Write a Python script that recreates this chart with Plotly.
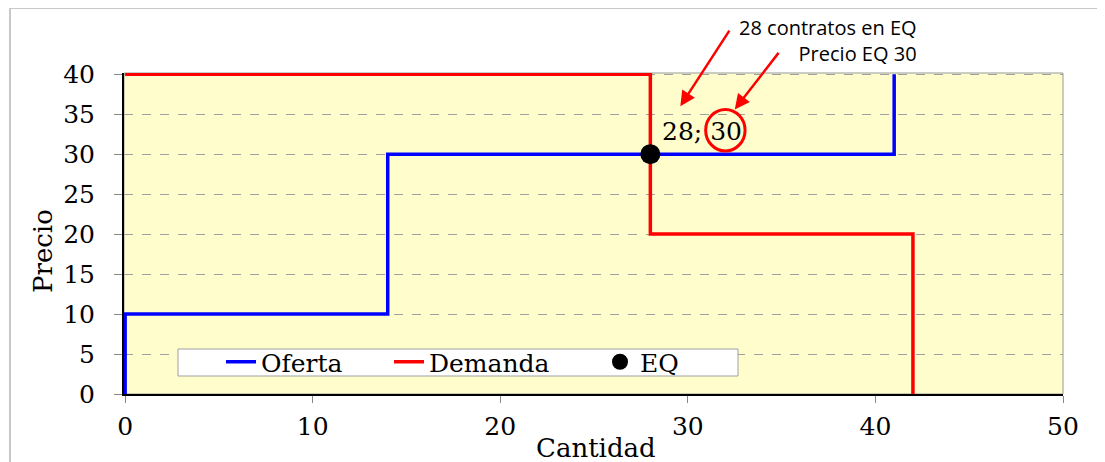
import plotly.graph_objects as go

# Datos del mercado (escalones)
oferta_q = [0, 0, 14, 14, 41, 41]
oferta_p = [0, 10, 10, 30, 30, 40]
demanda_q = [0, 28, 28, 42, 42]
demanda_p = [40, 40, 20, 20, 0]
eq_q = [28]
eq_p = [30]

SERIF = "DejaVu Serif"
SANS = "Open Sans"

# Área de trazado en píxeles de pantalla (la página añade 8 px de margen)
PX_L, PX_R, PX_T, PX_B = 124, 1063, 73, 394
W, H = PX_R - PX_L, PX_B - PX_T


def px_x(x):
    return (x - PX_L) / W


def px_y(y):
    return (PX_B - y) / H


fig = go.Figure()

fig.add_trace(go.Scatter(x=oferta_q, y=oferta_p, mode="lines", name="Oferta", legend="legend",
                         line=dict(color="#0000FF", width=3.5), cliponaxis=False))
fig.add_trace(go.Scatter(x=demanda_q, y=demanda_p, mode="lines", name="Demanda", legend="legend2",
                         line=dict(color="#FF0000", width=3.5), cliponaxis=False))
fig.add_trace(go.Scatter(x=eq_q, y=eq_p, mode="markers", name="EQ", legend="legend3",
                         marker=dict(color="black", size=20), cliponaxis=False))

# Marco del gráfico y borde del área de trazado
fig.add_shape(type="line", xref="paper", yref="paper", x0=px_x(10), x1=px_x(1200), y0=px_y(8), y1=px_y(8),
              line=dict(color="#C8C8C8", width=2), layer="below")
fig.add_shape(type="line", xref="paper", yref="paper", x0=px_x(10), x1=px_x(10), y0=px_y(500), y1=px_y(8),
              line=dict(color="#C8C8C8", width=2), layer="below")
fig.add_shape(type="rect", xref="paper", yref="paper", x0=0, x1=1, y0=0, y1=1,
              line=dict(color="#999999", width=1), layer="below")

# Caja de la leyenda
fig.add_shape(type="rect", xref="paper", yref="paper", x0=px_x(178), x1=px_x(738), y0=px_y(376), y1=px_y(349),
              line=dict(color="#A0A0A0", width=1), fillcolor="white", layer="above")

# Círculo alrededor del precio
fig.add_shape(type="circle", x0=30.95, x1=33.05, y0=30.4, y1=35.6,
              line=dict(color="#FF0000", width=3))

fig.add_annotation(x=33.0, y=32.8, text="28; 30", showarrow=False, xanchor="right", yanchor="middle",
                   font=dict(family=SERIF, size=25, color="black"))

# Flechas
fig.add_annotation(x=29.6, y=36.0, ax=50, ay=-77, text="", showarrow=True,
                   arrowhead=2, arrowsize=1.2, arrowwidth=2.5, arrowcolor="#FF0000")
fig.add_annotation(x=32.5, y=35.6, ax=45, ay=-58, text="", showarrow=True,
                   arrowhead=2, arrowsize=1.2, arrowwidth=2.5, arrowcolor="#FF0000")

fig.add_annotation(xref="paper", yref="paper", x=px_x(919), y=px_y(40.5),
                   text="28 contratos en EQ<br>Precio EQ 30", showarrow=False,
                   xanchor="right", yanchor="middle", align="right",
                   font=dict(family=SANS, size=20, color="black"))

# Títulos de ejes
fig.add_annotation(xref="paper", yref="paper", x=px_x(596), y=px_y(448),
                   text="Cantidad", showarrow=False, xanchor="center", yanchor="middle",
                   font=dict(family=SERIF, size=26, color="black"))
fig.add_annotation(xref="paper", yref="paper", x=px_x(43), y=px_y(251),
                   text="Precio", showarrow=False, textangle=-90, xanchor="center", yanchor="middle",
                   font=dict(family=SERIF, size=26, color="black"))

fig.update_xaxes(range=[-0.06, 50], tick0=0, dtick=10, showgrid=False, zeroline=False,
                 showline=True, linecolor="black", linewidth=2,
                 ticks="outside", ticklen=7, tickcolor="#888888", ticklabelstandoff=2,
                 tickfont=dict(family=SERIF, size=25, color="black"))
fig.update_yaxes(range=[0, 40.15], tick0=0, dtick=5, showgrid=True, gridcolor="#A0A0A0",
                 griddash="dash", gridwidth=1, zeroline=False,
                 showline=True, linecolor="black", linewidth=2,
                 ticks="outside", ticklen=8, tickcolor="#888888", ticklabelstandoff=14,
                 tickfont=dict(family=SERIF, size=25, color="black"))

leg_font = dict(family=SERIF, size=25, color="black")
leg_common = dict(orientation="h", xanchor="left", yanchor="middle", y=px_y(362),
                  bgcolor="rgba(0,0,0,0)", borderwidth=0, font=leg_font)

fig.update_layout(
    width=1097, height=454,
    margin=dict(l=PX_L - 8, r=1105 - PX_R, t=PX_T - 8, b=462 - PX_B),
    paper_bgcolor="white", plot_bgcolor="#FFFDCC",
    showlegend=True,
    legend=dict(x=px_x(221), **leg_common),
    legend2=dict(x=px_x(389), **leg_common),
    legend3=dict(x=px_x(600), **leg_common),
)

fig.write_html("out.html")
